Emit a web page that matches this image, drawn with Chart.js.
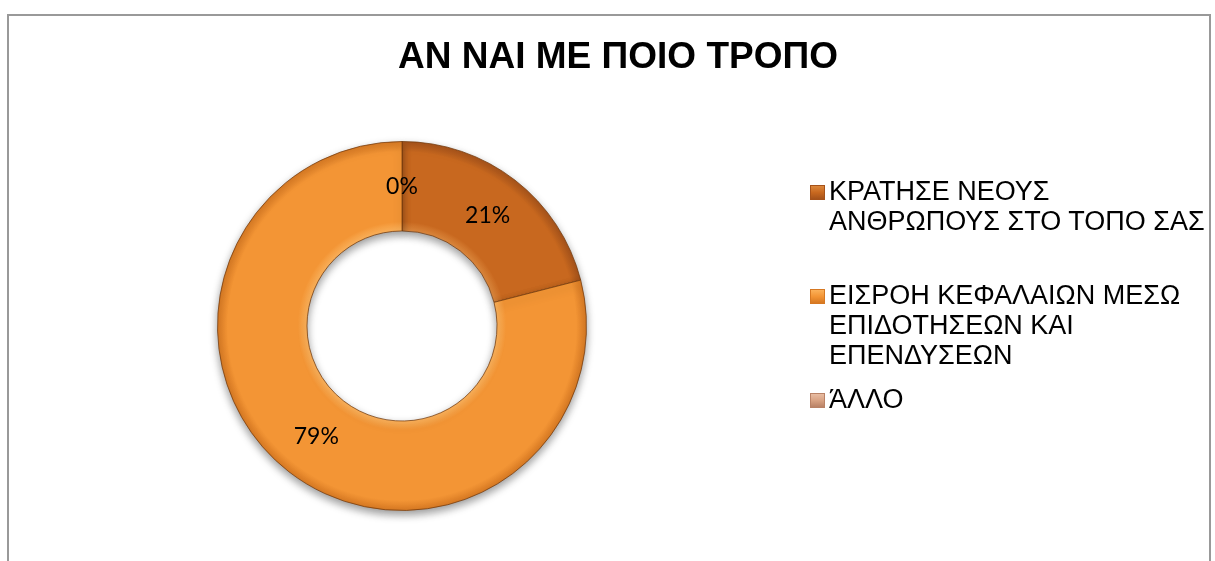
<!DOCTYPE html>
<html>
<head>
<meta charset="utf-8">
<script src="https://cdn.jsdelivr.net/npm/chart.js@4.4.0/dist/chart.umd.min.js"></script>
<style>
  html, body { margin: 0; padding: 0; background: #fff; }
  body { width: 1215px; height: 561px; position: relative; overflow: hidden; font-family: "Liberation Sans", Arial, sans-serif; }
  #frame { position: absolute; left: 7px; top: 14px; width: 1204px; height: 600px; border: 2px solid #999; box-sizing: border-box; }
  #title { position: absolute; left: 618px; top: 38px; transform: translateX(-50%); font-weight: bold; font-size: 37px; line-height: 36px; white-space: nowrap; color: #000; }
  #chartBox { position: absolute; left: 0; top: 0; width: 1215px; height: 561px; }
  .legend-item { position: absolute; left: 810px; font-size: 27px; line-height: 30px; color: #000; white-space: nowrap; }
  .legend-item .box { position: absolute; left: 0; top: 9px; width: 15px; height: 15px; box-sizing: border-box; }
  .legend-item .txt { margin-left: 19px; }
</style>
</head>
<body>
<div id="frame"></div>
<div id="chartBox"><canvas id="donut" width="1215" height="561"></canvas></div>
<div id="title"></div>
<div id="legend"></div>
<script>
const chartTitle = 'ΑΝ ΝΑΙ ΜΕ ΠΟΙΟ ΤΡΟΠΟ';
const categories = [
  ['ΚΡΑΤΗΣΕ ΝΕΟΥΣ', 'ΑΝΘΡΩΠΟΥΣ ΣΤΟ ΤΟΠΟ ΣΑΣ'],
  ['ΕΙΣΡΟΗ ΚΕΦΑΛΑΙΩΝ ΜΕΣΩ', 'ΕΠΙΔΟΤΗΣΕΩΝ ΚΑΙ', 'ΕΠΕΝΔΥΣΕΩΝ'],
  ['ΆΛΛΟ'],
];
const percents = [21, 79, 0];

const baseColors = ['#C8681F', '#F39535', '#D8A283'];
const lightColors = ['#DC873C', '#FBB15A', '#E8BCA2'];
const darkColors = ['#A5521A', '#D67822', '#B98266'];

// legend item tops (px)
const legendTops = [176, 280, 384];

document.getElementById('title').textContent = chartTitle;

const legendEl = document.getElementById('legend');
categories.forEach((lines, i) => {
  const item = document.createElement('div');
  item.className = 'legend-item';
  item.style.top = legendTops[i] + 'px';
  const box = document.createElement('div');
  box.className = 'box';
  box.style.background = `linear-gradient(to bottom, ${lightColors[i]}, ${baseColors[i]} 50%, ${darkColors[i]})`;
  box.style.border = `1px solid ${darkColors[i]}`;
  item.appendChild(box);
  const txt = document.createElement('div');
  txt.className = 'txt';
  txt.innerHTML = lines.join('<br>');
  item.appendChild(txt);
  legendEl.appendChild(item);
});

function sliceFill(context) {
  const i = context.dataIndex;
  const { chart } = context;
  const area = chart.chartArea;
  if (!area) return baseColors[i];
  const cx = (area.left + area.right) / 2;
  const cy = (area.top + area.bottom) / 2;
  const outer = Math.min(area.width, area.height) / 2;
  const inner = outer * 0.515;
  const g = chart.ctx.createRadialGradient(cx, cy, inner, cx, cy, outer);
  g.addColorStop(0, lightColors[i]);
  g.addColorStop(0.1, baseColors[i]);
  g.addColorStop(0.88, baseColors[i]);
  g.addColorStop(1, darkColors[i]);
  return g;
}

const shadowPlugin = {
  id: 'ringShadow',
  beforeDatasetsDraw(chart) {
    const { ctx } = chart;
    ctx.save();
    ctx.shadowColor = 'rgba(0, 0, 0, 0.4)';
    ctx.shadowBlur = 9;
    ctx.shadowOffsetY = 4;
  },
  afterDatasetsDraw(chart) {
    chart.ctx.restore();
  },
};

const labelPlugin = {
  id: 'pctLabels',
  afterDraw(chart) {
    const { ctx } = chart;
    const meta = chart.getDatasetMeta(0);
    ctx.save();
    ctx.font = '23px Lato, "Open Sans", sans-serif';
    ctx.fillStyle = '#000';
    ctx.textAlign = 'center';
    ctx.textBaseline = 'middle';
    meta.data.forEach((arc, i) => {
      const p = arc.getProps(['x', 'y', 'startAngle', 'endAngle', 'innerRadius', 'outerRadius'], true);
      const mid = (p.startAngle + p.endAngle) / 2;
      const r = (p.innerRadius + p.outerRadius) / 2;
      ctx.fillText(percents[i] + '%', p.x + Math.cos(mid) * r, p.y + Math.sin(mid) * r);
    });
    ctx.restore();
  },
};

new Chart(document.getElementById('donut'), {
  type: 'doughnut',
  data: {
    labels: categories.map((l) => l.join(' ')),
    datasets: [{
      data: percents,
      backgroundColor: sliceFill,
      borderColor: 'rgba(115, 58, 12, 0.75)',
      borderWidth: 1,
      hoverOffset: 0,
    }],
  },
  options: {
    responsive: false,
    animation: false,
    cutout: '51.5%',
    layout: {
      padding: { left: 217, right: 628, top: 141, bottom: 50 },
    },
    plugins: {
      legend: { display: false },
      tooltip: { enabled: false },
    },
  },
  plugins: [shadowPlugin, labelPlugin],
});
</script>
</body>
</html>
